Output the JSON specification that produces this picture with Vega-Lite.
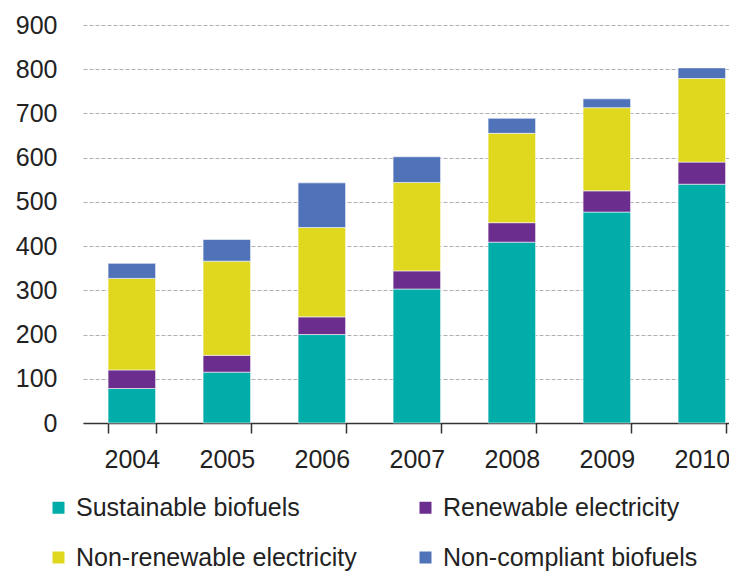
{
  "$schema": "https://vega.github.io/schema/vega-lite/v6.json",
  "autosize": "none",
  "width": 646,
  "height": 398,
  "padding": {"left": 83, "top": 25, "right": 0, "bottom": 151},
  "background": "white",
  "config": {"font": "Liberation Sans", "view": {"stroke": null}},
  "data": {"values": [
    {"year": "2004", "series": "Sustainable biofuels", "value": 78},
    {"year": "2004", "series": "Renewable electricity", "value": 42},
    {"year": "2004", "series": "Non-renewable electricity", "value": 207},
    {"year": "2004", "series": "Non-compliant biofuels", "value": 34},
    {"year": "2005", "series": "Sustainable biofuels", "value": 115},
    {"year": "2005", "series": "Renewable electricity", "value": 38},
    {"year": "2005", "series": "Non-renewable electricity", "value": 213},
    {"year": "2005", "series": "Non-compliant biofuels", "value": 49},
    {"year": "2006", "series": "Sustainable biofuels", "value": 200},
    {"year": "2006", "series": "Renewable electricity", "value": 40},
    {"year": "2006", "series": "Non-renewable electricity", "value": 202},
    {"year": "2006", "series": "Non-compliant biofuels", "value": 101},
    {"year": "2007", "series": "Sustainable biofuels", "value": 303},
    {"year": "2007", "series": "Renewable electricity", "value": 41},
    {"year": "2007", "series": "Non-renewable electricity", "value": 200},
    {"year": "2007", "series": "Non-compliant biofuels", "value": 58},
    {"year": "2008", "series": "Sustainable biofuels", "value": 409},
    {"year": "2008", "series": "Renewable electricity", "value": 44},
    {"year": "2008", "series": "Non-renewable electricity", "value": 202},
    {"year": "2008", "series": "Non-compliant biofuels", "value": 34},
    {"year": "2009", "series": "Sustainable biofuels", "value": 477},
    {"year": "2009", "series": "Renewable electricity", "value": 48},
    {"year": "2009", "series": "Non-renewable electricity", "value": 188},
    {"year": "2009", "series": "Non-compliant biofuels", "value": 20},
    {"year": "2010", "series": "Sustainable biofuels", "value": 540},
    {"year": "2010", "series": "Renewable electricity", "value": 50},
    {"year": "2010", "series": "Non-renewable electricity", "value": 189},
    {"year": "2010", "series": "Non-compliant biofuels", "value": 24}
  ]},
  "mark": {"type": "bar", "stroke": "white", "strokeWidth": 0.8, "strokeOpacity": 0.7},
  "encoding": {
    "x": {
      "field": "year", "type": "ordinal",
      "scale": {"paddingInner": 0.5, "paddingOuter": 0.15, "align": 0.88},
      "axis": {
        "title": null, "labelAngle": 0, "labelFontSize": 25, "labelColor": "#222",
        "labelPadding": 26, "labelBaseline": "middle", "domainColor": "#333", "domainWidth": 1.5,
        "tickColor": "#333", "tickWidth": 1.5, "tickSize": 10, "tickBand": "extent", "grid": false
      }
    },
    "y": {
      "field": "value", "type": "quantitative", "stack": "zero",
      "scale": {"domain": [0, 900], "nice": false},
      "axis": {
        "title": null, "values": [0, 100, 200, 300, 400, 500, 600, 700, 800, 900],
        "labelFontSize": 25, "labelColor": "#222", "labelPadding": 26,
        "domain": false, "ticks": false,
        "grid": true, "gridColor": "#b0b0b0", "gridDash": [4, 2], "gridWidth": 1
      }
    },
    "color": {
      "field": "series", "type": "nominal",
      "sort": ["Sustainable biofuels", "Renewable electricity", "Non-renewable electricity", "Non-compliant biofuels"],
      "scale": {
        "domain": ["Sustainable biofuels", "Renewable electricity", "Non-renewable electricity", "Non-compliant biofuels"],
        "range": ["#00ADA9", "#6B2D8E", "#E0D81E", "#4F72B8"]
      },
      "legend": {
        "title": null, "orient": "none", "legendX": -37, "legendY": 470,
        "direction": "horizontal", "columns": 2, "columnPadding": 56, "rowPadding": 24,
        "symbolType": "square", "symbolSize": 144, "symbolStrokeWidth": 0,
        "labelFontSize": 25, "labelColor": "#222", "labelLimit": 400, "labelOffset": 5
      }
    }
  }
}
